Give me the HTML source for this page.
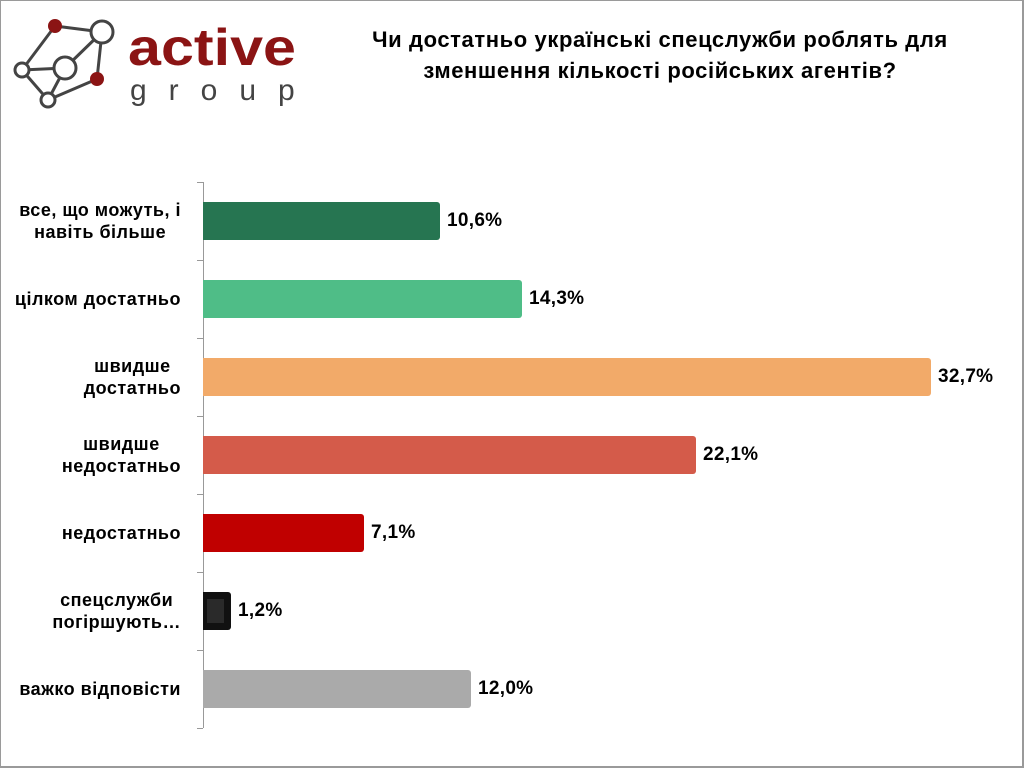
<!DOCTYPE html>
<html><head><meta charset="utf-8"><style>
body{margin:0;width:1024px;height:768px;background:#fff;overflow:hidden;font-family:"Liberation Sans",sans-serif;}
.frame{position:absolute;left:0;top:0;width:1021px;height:765px;border:1px solid #9a9a9a;border-right:2px solid #9a9a9a;border-bottom:2px solid #9a9a9a;}
.t{position:absolute;font-weight:bold;color:#000;}
.lab{position:absolute;right:843px;text-align:center;font-weight:bold;font-size:18px;letter-spacing:0.5px;line-height:22px;white-space:nowrap;}
.bar{position:absolute;left:203px;height:38px;border-radius:0 3px 3px 0;}
.val{position:absolute;font-weight:bold;font-size:19px;letter-spacing:0.3px;}
</style></head><body>
<div class="frame"></div>
<svg style="position:absolute;left:0;top:0" width="320" height="120">
<g stroke="#444" stroke-width="3" fill="none">
<line x1="55" y1="26" x2="102" y2="32"/><line x1="55" y1="26" x2="22" y2="70"/>
<line x1="102" y1="32" x2="65" y2="68"/><line x1="102" y1="32" x2="97" y2="79"/>
<line x1="22" y1="70" x2="65" y2="68"/><line x1="22" y1="70" x2="48" y2="100"/>
<line x1="65" y1="68" x2="48" y2="100"/><line x1="48" y1="100" x2="97" y2="79"/>
</g>
<circle cx="55" cy="26" r="7" fill="#8b1414"/>
<circle cx="102" cy="32" r="11" fill="#fff" stroke="#444" stroke-width="3"/>
<circle cx="22" cy="70" r="7" fill="#fff" stroke="#444" stroke-width="3"/>
<circle cx="65" cy="68" r="11" fill="#fff" stroke="#444" stroke-width="3"/>
<circle cx="97" cy="79" r="7" fill="#8b1414"/>
<circle cx="48" cy="100" r="7" fill="#fff" stroke="#444" stroke-width="3"/>
<text x="128" y="65" font-family="Liberation Sans" font-weight="bold" font-size="52" fill="#8b1414" textLength="168" lengthAdjust="spacingAndGlyphs">active</text>
<text x="130" y="100" font-family="Liberation Sans" font-size="30" fill="#444" letter-spacing="22">group</text>
</svg>
<div class="t" style="left:330px;width:660px;top:24px;text-align:center;font-size:22px;letter-spacing:0.6px;line-height:31px;white-space:nowrap;">Чи достатньо українські спецслужби роблять для<br>зменшення кількості російських агентів?</div>
<svg style="position:absolute;left:0;top:0" width="1024" height="768">
<g stroke="#999" stroke-width="1">
<line x1="203.5" y1="182" x2="203.5" y2="728"/>
<line x1="197" y1="182.5" x2="203" y2="182.5"/><line x1="197" y1="260.5" x2="203" y2="260.5"/>
<line x1="197" y1="338.5" x2="203" y2="338.5"/><line x1="197" y1="416.5" x2="203" y2="416.5"/>
<line x1="197" y1="494.5" x2="203" y2="494.5"/><line x1="197" y1="572.5" x2="203" y2="572.5"/>
<line x1="197" y1="650.5" x2="203" y2="650.5"/><line x1="197" y1="728.5" x2="203" y2="728.5"/>
</g></svg>
<div class="lab" style="top:199px">все, що можуть, і<br>навіть більше</div>
<div class="lab" style="top:288px">цілком достатньо</div>
<div class="lab" style="top:355px">швидше<br>достатньо</div>
<div class="lab" style="top:433px">швидше<br>недостатньо</div>
<div class="lab" style="top:522px">недостатньо</div>
<div class="lab" style="top:589px">спецслужби<br>погіршують…</div>
<div class="lab" style="top:678px">важко відповісти</div>
<div class="bar" style="top:202px;width:237px;background:#267551"></div>
<div class="bar" style="top:280px;width:319px;background:#4fbd87"></div>
<div class="bar" style="top:358px;width:728px;background:#f2aa69"></div>
<div class="bar" style="top:436px;width:493px;background:#d45b4a"></div>
<div class="bar" style="top:514px;width:161px;background:#c00000"></div>
<div class="bar" style="top:592px;width:28px;background:#111;"><div style="position:absolute;left:4px;top:7px;width:17px;height:24px;background:#2a2a2a"></div></div>
<div class="bar" style="top:670px;width:268px;background:#aaa"></div>
<div class="val" style="left:447px;top:210px">10,6%</div>
<div class="val" style="left:529px;top:288px">14,3%</div>
<div class="val" style="left:938px;top:366px">32,7%</div>
<div class="val" style="left:703px;top:444px">22,1%</div>
<div class="val" style="left:371px;top:522px">7,1%</div>
<div class="val" style="left:238px;top:600px">1,2%</div>
<div class="val" style="left:478px;top:678px">12,0%</div>
</body></html>
